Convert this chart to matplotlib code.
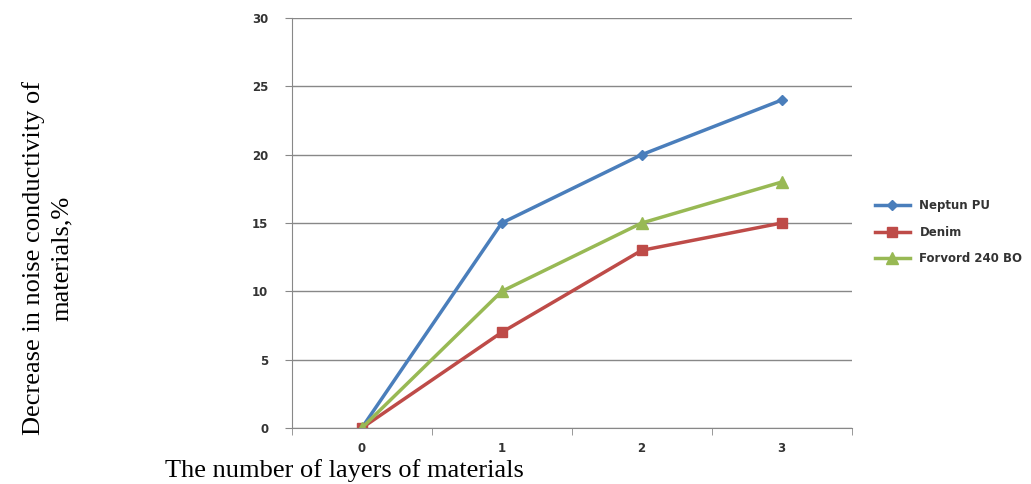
import matplotlib.pyplot as plt
import numpy as np

layers = [0, 1, 2, 3]
neptun = [0, 15, 20, 24]
denim = [0, 7, 13, 15]
forvord = [0, 10, 15, 18]
y_ticks = [0, 5, 10, 15, 20, 25, 30]

fig = plt.figure(figsize=(10.31, 4.84), dpi=100)
ax = fig.add_axes([0.283, 0.1157, 0.543, 0.847])

ax.plot(layers, neptun, color="#4A7EBB", lw=2.5, marker="D", ms=5, label="Neptun PU")
ax.plot(layers, denim, color="#BE4B48", lw=2.5, marker="s", ms=7, label="Denim")
ax.plot(layers, forvord, color="#98B954", lw=2.5, marker="^", ms=8, label="Forvord 240 BO")

ax.set_xlim(-0.5, 3.5)
ax.set_ylim(0, 30)
ax.set_yticks(y_ticks)
ax.set_xticks(layers)
ax.set_xticks(np.arange(-0.5, 3.6, 1), minor=True)
ax.tick_params(axis="x", which="major", length=0, pad=10)
ax.tick_params(axis="x", which="minor", length=5, color="#888888")
ax.tick_params(axis="y", length=5, color="#888888", pad=12)
for lab in ax.get_xticklabels() + ax.get_yticklabels():
    lab.set_fontsize(8.5)
    lab.set_fontfamily("DejaVu Sans")
    lab.set_fontweight("bold")
    lab.set_color("#333333")

ax.grid(axis="y", color="#888888", lw=1)
ax.set_axisbelow(True)
for s in ["top", "right"]:
    ax.spines[s].set_visible(False)
for s in ["left", "bottom"]:
    ax.spines[s].set_color("#888888")

fig.text(0.046, 0.467, "Decrease in noise conductivity of\nmaterials,%", rotation=90,
         ha="center", va="center", fontsize=19, family="Liberation Serif", linespacing=1.4)
fig.text(0.16, 0.028, "The number of layers of materials", ha="left", va="center",
         fontsize=19, family="Liberation Serif")

leg = fig.legend(loc="center left", bbox_to_anchor=(0.838, 0.52), frameon=False,
                 prop={"family": "DejaVu Sans", "weight": "bold", "size": 8.5},
                 handlelength=3, labelspacing=1.15)
for t in leg.get_texts():
    t.set_color("#333333")

fig.savefig("out.png", dpi=100)
